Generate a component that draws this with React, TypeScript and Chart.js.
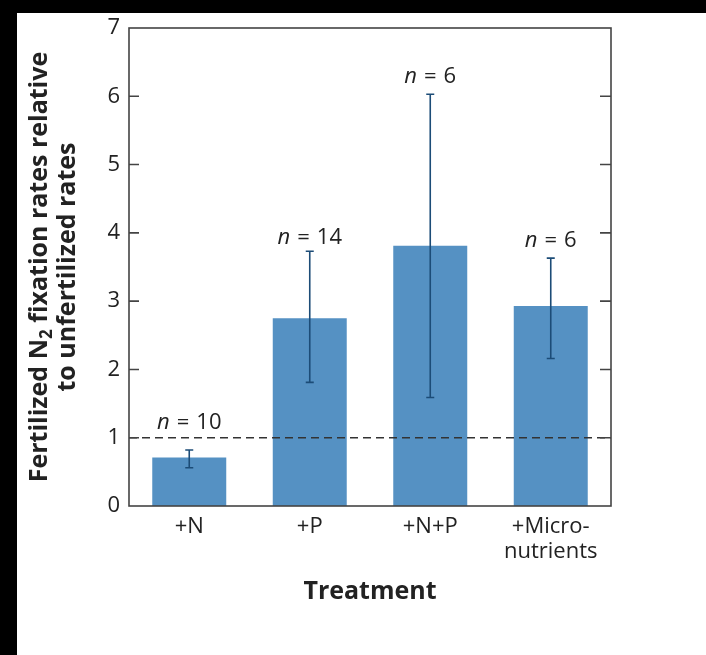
import React, { useEffect, useRef } from "react";
import { Chart, registerables } from "chart.js";

Chart.register(...registerables);

const categories: string[][] = [["+N"], ["+P"], ["+N+P"], ["+Micro-", "nutrients"]];
const means = [0.71, 2.75, 3.81, 2.93];
const errHigh = [0.82, 3.73, 6.03, 3.63];
const errLow = [0.56, 1.81, 1.59, 2.16];
const nLabels = ["10", "14", "6", "6"];
const nLabelY = [1.22, 3.93, 6.29, 3.88];
const yMin = 0;
const yMax = 7;
const refLine = 1;
const xTitle = "Treatment";
const yTitle1a = "Fertilized N";
const yTitle1sub = "2";
const yTitle1b = " fixation rates relative";
const yTitle2 = "to unfertilized rates";

const FONT = "'Open Sans', 'Noto Sans', sans-serif";
const TEXT = "#222222";
const AXIS = "#444444";
const BAR = "#5591c3";
const ERR = "#1c4c77";

const overlay = {
  id: "overlay",
  afterDatasetsDraw(chart: any) {
    const ctx = chart.ctx;
    const { left, right, top, bottom } = chart.chartArea;
    const ys = chart.scales.y;
    ctx.save();

    // dashed reference line
    ctx.strokeStyle = "#333333";
    ctx.lineWidth = 1.5;
    ctx.setLineDash([8, 5]);
    const yr = ys.getPixelForValue(refLine);
    ctx.beginPath();
    ctx.moveTo(left, yr);
    ctx.lineTo(right, yr);
    ctx.stroke();
    ctx.setLineDash([]);

    // error bars
    const meta = chart.getDatasetMeta(0);
    meta.data.forEach((bar: any, i: number) => {
      const x = bar.x;
      const yh = ys.getPixelForValue(errHigh[i]);
      const yl = ys.getPixelForValue(errLow[i]);
      ctx.strokeStyle = ERR;
      ctx.lineWidth = 1.6;
      ctx.beginPath();
      ctx.moveTo(x, yh);
      ctx.lineTo(x, yl);
      ctx.moveTo(x - 4, yh);
      ctx.lineTo(x + 4, yh);
      ctx.moveTo(x - 4, yl);
      ctx.lineTo(x + 4, yl);
      ctx.stroke();

      // n labels
      const ly = ys.getPixelForValue(nLabelY[i]);
      ctx.fillStyle = TEXT;
      ctx.textBaseline = "middle";
      ctx.textAlign = "left";
      const fItal = `italic 22px ${FONT}`;
      const fNorm = `22px ${FONT}`;
      const gap = 7;
      ctx.font = fItal;
      const wn = ctx.measureText("n").width;
      ctx.font = fNorm;
      const we = ctx.measureText("=").width;
      const wnum = ctx.measureText(nLabels[i]).width;
      const total = wn + gap + we + gap + wnum;
      let x0 = x - total / 2;
      ctx.font = fItal;
      ctx.fillText("n", x0, ly);
      x0 += wn + gap;
      ctx.font = fNorm;
      ctx.fillText("=", x0, ly);
      x0 += we + gap;
      ctx.fillText(nLabels[i], x0, ly);
    });

    // frame
    ctx.strokeStyle = AXIS;
    ctx.lineWidth = 1.6;
    ctx.strokeRect(left, top, right - left, bottom - top);
    // inward ticks
    for (let v = yMin + 1; v < yMax; v++) {
      const y = ys.getPixelForValue(v);
      ctx.beginPath();
      ctx.moveTo(left, y);
      ctx.lineTo(left + 10, y);
      ctx.moveTo(right, y);
      ctx.lineTo(right - 11, y);
      ctx.stroke();
    }

    // x title
    ctx.fillStyle = TEXT;
    ctx.font = `bold 25px ${FONT}`;
    ctx.textAlign = "center";
    ctx.textBaseline = "middle";
    ctx.fillText(xTitle, (left + right) / 2, bottom + 86);

    // y title (rotated)
    const cy = (top + bottom) / 2;
    const drawRot = (cx: number, fn: () => void) => {
      ctx.save();
      ctx.translate(cx, cy);
      ctx.rotate(-Math.PI / 2);
      fn();
      ctx.restore();
    };
    drawRot(23, () => {
      const fb = `bold 25px ${FONT}`;
      const fs = `bold 17px ${FONT}`;
      ctx.font = fb;
      const wa = ctx.measureText(yTitle1a).width;
      const wb = ctx.measureText(yTitle1b).width;
      ctx.font = fs;
      const wsub = ctx.measureText(yTitle1sub).width;
      const total = wa + wsub + wb;
      let x = -total / 2;
      ctx.textAlign = "left";
      ctx.textBaseline = "middle";
      ctx.fillStyle = TEXT;
      ctx.font = fb;
      ctx.fillText(yTitle1a, x, 0);
      x += wa;
      ctx.font = fs;
      ctx.fillText(yTitle1sub, x, 7);
      x += wsub;
      ctx.font = fb;
      ctx.fillText(yTitle1b, x, 0);
    });
    drawRot(51, () => {
      ctx.font = `bold 25px ${FONT}`;
      ctx.textAlign = "center";
      ctx.textBaseline = "middle";
      ctx.fillStyle = TEXT;
      ctx.fillText(yTitle2, 0, 0);
    });

    ctx.restore();
  },
};

export default function App() {
  const ref = useRef<HTMLCanvasElement | null>(null);
  useEffect(() => {
    if (!ref.current) return;
    const chart = new Chart(ref.current, {
      type: "bar",
      data: {
        labels: categories,
        datasets: [
          {
            data: means,
            backgroundColor: BAR,
            borderWidth: 0,
            barPercentage: 0.614,
            categoryPercentage: 1,
          },
        ],
      },
      options: {
        responsive: false,
        animation: false,
        layout: { padding: { top: 15, right: 95, left: 0, bottom: 0 } },
        plugins: { legend: { display: false }, tooltip: { enabled: false }, title: { display: false } },
        scales: {
          x: {
            grid: { display: false, drawTicks: false },
            border: { display: false },
            ticks: {
              color: TEXT,
              font: { family: FONT, size: 22, lineHeight: 1.15 },
              padding: 8,
              maxRotation: 0,
              autoSkip: false,
            },
            afterFit: (s: any) => {
              s.height = 149;
              s.paddingLeft = 0;
              s.paddingRight = 0;
            },
          },
          y: {
            min: yMin,
            max: yMax,
            grid: { display: false, drawTicks: false },
            border: { display: false },
            ticks: {
              stepSize: 1,
              color: TEXT,
              font: { family: FONT, size: 22 },
              padding: 9,
            },
            afterFit: (s: any) => {
              s.width = 112;
              s.paddingTop = 0;
              s.paddingBottom = 0;
            },
          },
        },
      },
      plugins: [overlay],
    });
    return () => chart.destroy();
  }, []);

  return (
    <div style={{ position: "fixed", inset: 0, background: "#000" }}>
      <div style={{ position: "absolute", left: 17, top: 13, width: 689, height: 642, background: "#fff" }}>
        <canvas ref={ref} width={689} height={642} style={{ display: "block" }} />
      </div>
    </div>
  );
}
